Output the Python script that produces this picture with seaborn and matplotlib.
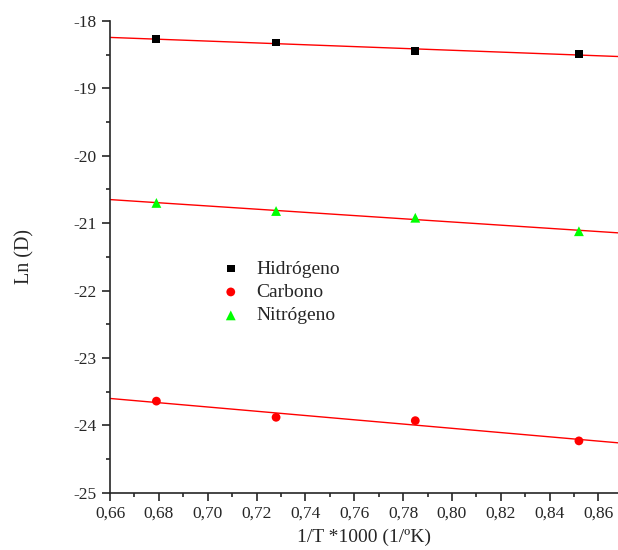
import matplotlib
matplotlib.use("Agg")
import matplotlib.pyplot as plt
import seaborn as sns
import numpy as np
import pandas as pd
from matplotlib.ticker import MultipleLocator

# data
inv_t = [0.679, 0.728, 0.785, 0.852]
hidrogeno = [-18.27, -18.32, -18.45, -18.49]
carbono = [-23.64, -23.88, -23.93, -24.23]
nitrogeno = [-20.70, -20.82, -20.92, -21.12]

series_names = ["Hidrógeno", "Carbono", "Nitrógeno"]
series_vals = [hidrogeno, carbono, nitrogeno]
series_colors = ["black", "#ff0000", "#00ff00"]
series_markers = ["s", "o", "^"]
series_sizes = [32, 40, 50]

x_ticks = [0.66, 0.68, 0.70, 0.72, 0.74, 0.76, 0.78, 0.80, 0.82, 0.84, 0.86]
x_tick_labels = ["0,66", "0,68", "0,70", "0,72", "0,74", "0,76", "0,78", "0,80", "0,82", "0,84", "0,86"]
y_ticks = [-25, -24, -23, -22, -21, -20, -19, -18]
y_tick_labels = ["-25", "-24", "-23", "-22", "-21", "-20", "-19", "-18"]

sns.set_style("ticks")
plt.rcParams['font.family'] = ['Liberation Serif', 'DejaVu Serif']

fig = plt.figure(figsize=(6.18, 5.5), dpi=100)
ax = fig.add_axes([0.178, 0.104, 0.822, 0.858])
ax.set_xlim(0.66, 0.868)
ax.set_ylim(-25, -18)

for name, vals, col, mk, sz in zip(series_names, series_vals, series_colors, series_markers, series_sizes):
    df = pd.DataFrame({"x": inv_t, "y": vals})
    # fitted line over whole axis
    sns.regplot(data=df, x="x", y="y", ax=ax, scatter=False, ci=None, truncate=False,
                color="#ff0000", line_kws={"lw": 1.0, "zorder": 2})
    sns.scatterplot(data=df, x="x", y="y", ax=ax, color=col, marker=mk, s=sz,
                    edgecolor="none", label=name, zorder=3)

ax.set_xlim(0.66, 0.868)
ax.set_ylim(-25, -18)

ax.set_xticks(x_ticks)
ax.set_xticklabels(x_tick_labels)
ax.set_yticks(y_ticks)
ax.set_yticklabels(y_tick_labels)
ax.xaxis.set_minor_locator(MultipleLocator(0.01))
ax.yaxis.set_minor_locator(MultipleLocator(0.5))
ax.tick_params(which="major", length=6, width=1.2, labelsize=12.5, direction="out")
ax.tick_params(which="minor", length=3, width=1.2, direction="out")

for side in ["top", "right"]:
    ax.spines[side].set_visible(False)
for side in ["left", "bottom"]:
    ax.spines[side].set_linewidth(1.2)

ax.set_xlabel("1/T *1000 (1/ºK)", fontsize=14, labelpad=5)
ax.set_ylabel("Ln (D)", fontsize=14.5, labelpad=28)

ax.legend(loc="center left", bbox_to_anchor=(0.165, 0.425), frameon=False,
          fontsize=14, handletextpad=0.3, labelspacing=0.3, markerscale=1.0)

fig.savefig("out.png", dpi=100)
plt.close(fig)
